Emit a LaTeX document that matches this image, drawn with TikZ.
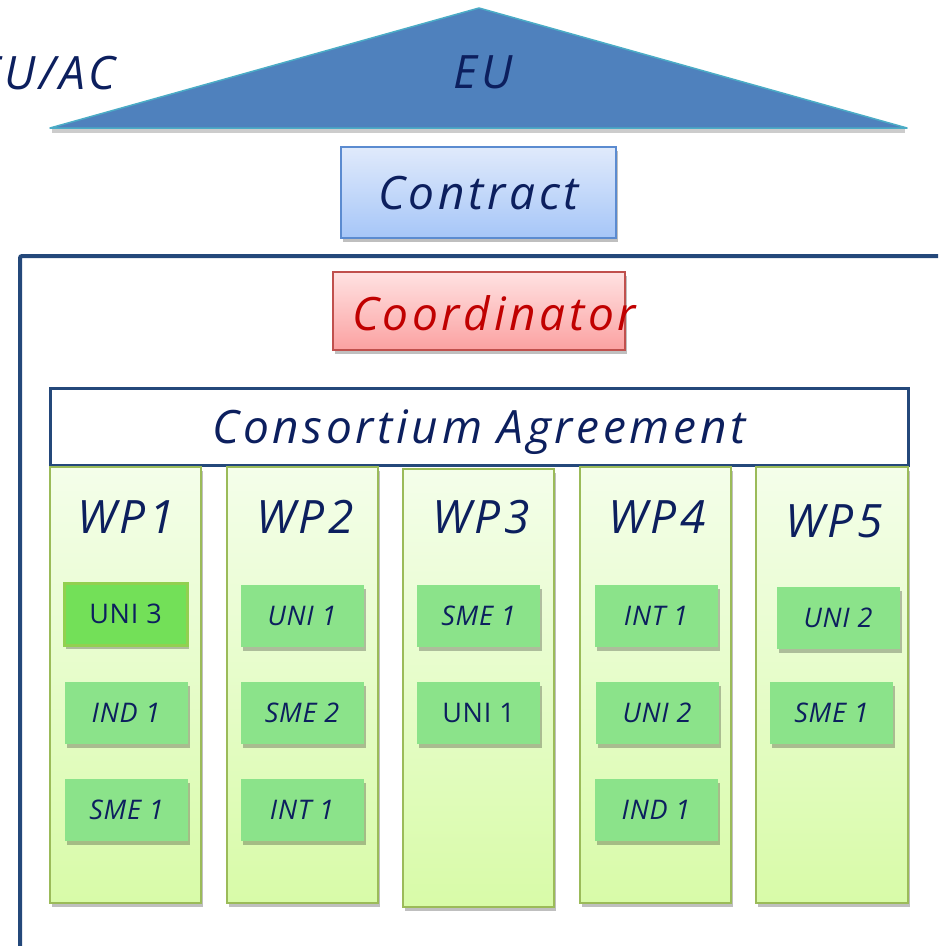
\documentclass[tikz,border=0pt]{standalone}
\usepackage{fontspec}
\setmainfont{Open Sans}
\newfontfamily\headfamily[LetterSpace=8]{Open Sans}
\newfontfamily\membfamily[LetterSpace=3]{Open Sans}
\usetikzlibrary{shadows}

\newlength{\du}
\setlength{\du}{1pt}

\definecolor{eublue}{HTML}{4F81BD}
\definecolor{euedge}{HTML}{4BACC6}
\definecolor{navytext}{HTML}{0C1F5E}
\definecolor{contracttop}{HTML}{E0EAFB}
\definecolor{contractbottom}{HTML}{A6C6F8}
\definecolor{contractedge}{HTML}{5B8BD0}
\definecolor{coordtop}{HTML}{FFE2E2}
\definecolor{coordbottom}{HTML}{FBA1A1}
\definecolor{coordedge}{HTML}{C0504D}
\definecolor{coordtext}{HTML}{C00000}
\definecolor{framecolor}{HTML}{24487A}
\definecolor{wptop}{HTML}{F4FEEA}
\definecolor{wpbottom}{HTML}{D8FBA8}
\definecolor{wpedge}{HTML}{9BBB59}
\definecolor{memberfill}{HTML}{8BE38A}
\definecolor{leadfill}{HTML}{73E058}
\definecolor{leadedge}{HTML}{92D050}

\newcommand{\headfont}{\headfamily\fontsize{46}{50}\selectfont\itshape}
\newcommand{\membfont}{\membfamily\fontsize{27}{30}\selectfont}

\tikzset{
  softshadow/.style={drop shadow={shadow xshift=2\du, shadow yshift=-4\du, opacity=0.25, fill=black}},
  headtext/.style={font=\headfont, text=navytext, inner sep=0pt},
  wpbox/.style={draw=wpedge, line width=2\du, top color=wptop, bottom color=wpbottom,
    minimum width=151\du, minimum height=436\du, inner sep=0pt, softshadow},
  member/.style={fill=memberfill, minimum width=123\du, minimum height=62\du, inner sep=0pt,
    font=\membfont\itshape, text=navytext, softshadow},
  leadmember/.style={member, fill=leadfill, draw=leadedge, line width=3\du, font=\membfont},
}

\begin{document}
\begin{tikzpicture}
\pgftransformxscale{1.000000}
\pgftransformyscale{-1.000000}
\useasboundingbox (0\du,0\du) rectangle (938\du,946\du);
\clip (0\du,0\du) rectangle (938\du,946\du);
% roof
\fill[black, opacity=0.2] (52\du,129\du)--(905\du,129\du)--(905\du,133\du)--(52\du,133\du)--cycle;
\fill[eublue] (50\du,128\du)--(479\du,8\du)--(907\du,128\du)--cycle;
\draw[euedge, line width=1.5\du, line join=round] (50\du,128\du)--(479\du,8\du)--(907\du,128\du)--cycle;
\node[headtext, anchor=east] (euac) at (116\du,73\du) {EU/AC};
\node[headtext] (eu) at (483\du,72\du) {EU};
% contract
\node[draw=contractedge, line width=1.5\du, top color=contracttop, bottom color=contractbottom,
  minimum width=275\du, minimum height=91\du, headtext, text depth=0pt, softshadow] (contract) at (478.5\du,192.5\du) {Contract};
% frame
\draw[framecolor, line width=4\du, rounded corners=2\du] (20\du,980\du)--(20\du,256\du)--(980\du,256\du);
% coordinator
\node[draw=coordedge, line width=1.5\du, top color=coordtop, bottom color=coordbottom,
  minimum width=292\du, minimum height=78\du, inner sep=0pt, softshadow] (coordbox) at (479\du,311\du) {};
\node[headtext, text=coordtext] (coordinator) at (494\du,313\du) {Coordinator};
% consortium agreement
\node[draw=framecolor, line width=3\du, fill=white, minimum width=858\du, minimum height=77\du,
  headtext, text depth=0pt] (agreement) at (479\du,426.5\du) {Consortium Agreement};
% work packages
\node[wpbox] (wp1) at (125.5\du,685\du) {};
\node[wpbox] (wp2) at (302.5\du,685\du) {};
\node[wpbox, minimum height=438\du] (wp3) at (478.5\du,688\du) {};
\node[wpbox] (wp4) at (655.5\du,685\du) {};
\node[wpbox, minimum width=152\du] (wp5) at (832\du,685\du) {};
\node[headtext] (wp1title) at (126\du,517\du) {WP1};
\node[headtext] (wp2title) at (305\du,517\du) {WP2};
\node[headtext] (wp3title) at (481\du,517\du) {WP3};
\node[headtext] (wp4title) at (657\du,517\du) {WP4};
\node[headtext] (wp5title) at (834\du,521\du) {WP5};
% partners
\node[leadmember] (wp1uni) at (125.5\du,614\du) {UNI 3};
\node[member] (wp1ind) at (126\du,713\du) {IND 1};
\node[member] (wp1sme) at (126.5\du,809.5\du) {SME 1};
\node[member] (wp2uni) at (302\du,616\du) {UNI 1};
\node[member] (wp2sme) at (302\du,713\du) {SME 2};
\node[member] (wp2int) at (302\du,810\du) {INT 1};
\node[member] (wp3sme) at (478.5\du,616\du) {SME 1};
\node[member, font=\membfont] (wp3uni) at (478.5\du,713\du) {UNI 1};
\node[member] (wp4int) at (656\du,616\du) {INT 1};
\node[member] (wp4uni) at (657\du,713\du) {UNI 2};
\node[member] (wp4ind) at (656\du,810\du) {IND 1};
\node[member] (wp5uni) at (838\du,618\du) {UNI 2};
\node[member] (wp5sme) at (831.5\du,713\du) {SME 1};
\end{tikzpicture}
\end{document}
